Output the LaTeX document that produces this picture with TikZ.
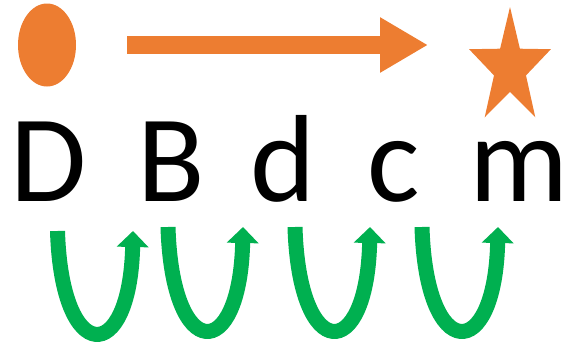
\documentclass[tikz,border=0pt]{standalone}
\usepackage{fontspec}
\setmainfont{Carlito}
\usetikzlibrary{arrows.meta,shapes.geometric}
\definecolor{orng}{HTML}{ED7D31}
\definecolor{grn}{HTML}{00B050}
\begin{document}
\begin{tikzpicture}[x=1pt,y=-1pt,
  letter/.style={anchor=base,inner sep=0pt,font=\fontsize{124}{124}\selectfont},
  uarrow/.style={draw=grn,line width=15pt,-{Triangle[width=31pt,length=16pt]}},
  blockarrow/.style={draw=orng,line width=18pt,-{Triangle[width=52pt,length=48pt]}}]
\useasboundingbox (0,0) rectangle (568,341);
% orange dot
\node[ellipse,fill=orng,inner sep=0pt,minimum width=58pt,minimum height=83pt] (dot) at (47,45) {};
% orange star
\coordinate (star) at (510,68);
\fill[orng] (510,7) -- (519.9,48.7) -- (550.9,49.2) -- (526.0,75.4) -- (535.3,117.3)
  -- (510,91.8) -- (484.7,117.3) -- (494.0,75.4) -- (469.1,49.2) -- (500.1,48.7) -- cycle;
% orange arrow
\coordinate (oa1) at (127,45);
\coordinate (oa2) at (428,45);
\draw[blockarrow] (oa1) -- (oa2);
% letters
\node[letter] (D) at (49,201) {D};
\node[letter] (B) at (171,201) {B};
\node[letter] (d) at (283,201) {d};
\node[letter] (c) at (394,201) {c};
\node[letter] (m) at (519,201) {m};
% green U arrows
\coordinate (u1s) at (57.5,231);  \coordinate (u1e) at (133,231);
\coordinate (u2s) at (168,227);   \coordinate (u2e) at (243,227);
\coordinate (u3s) at (295,227);   \coordinate (u3e) at (370,227);
\coordinate (u4s) at (422,227);   \coordinate (u4e) at (498,227);
\draw[uarrow] (u1s) .. controls (61.5,366.3) and (130,366.3) .. (u1e);
\draw[uarrow] (u2s) .. controls (172,363.7) and (240,363.7) .. (u2e);
\draw[uarrow] (u3s) .. controls (299,363.7) and (367,363.7) .. (u3e);
\draw[uarrow] (u4s) .. controls (426,363.7) and (495,363.7) .. (u4e);
\end{tikzpicture}
\end{document}
